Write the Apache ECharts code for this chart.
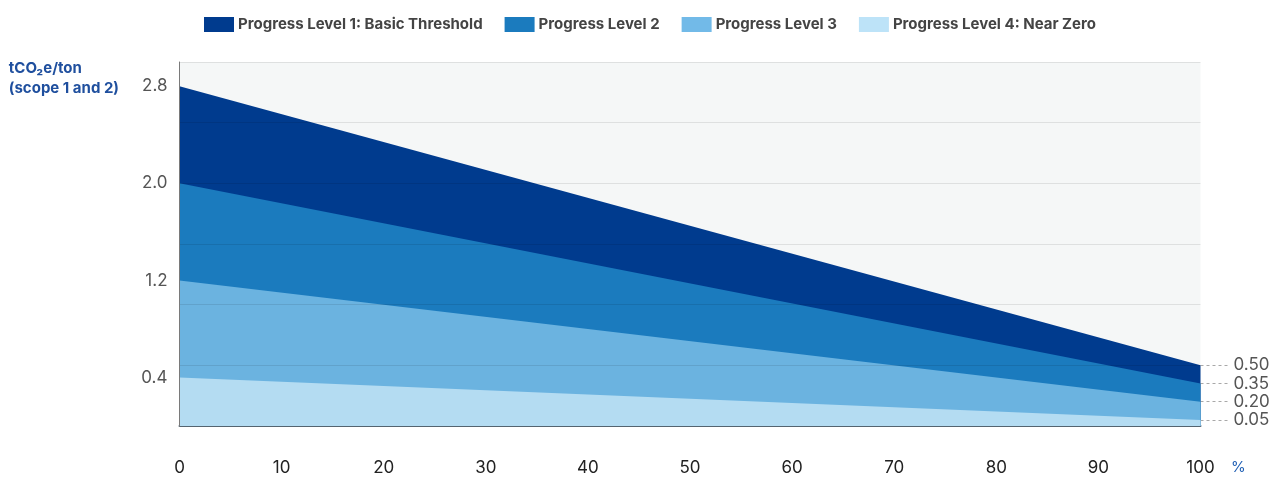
<!DOCTYPE html>
<html>
<head>
<meta charset="utf-8">
<script src="https://cdn.jsdelivr.net/npm/echarts@6/dist/echarts.min.js"></script>
<style>
  html, body { margin: 0; padding: 0; background: #ffffff; }
  #chart { width: 1279px; height: 477px; }
</style>
</head>
<body>
<div id="chart"></div>
<script>
// Share of progress (%) along the horizontal axis
const progressPct = [0, 100];

// Emission intensity thresholds, tCO2e per ton (scope 1 and 2)
const level1 = [2.8, 0.5];
const level2 = [2.0, 0.35];
const level3 = [1.2, 0.2];
const level4 = [0.4, 0.05];

const seriesNames = [
  'Progress Level 1: Basic Threshold',
  'Progress Level 2',
  'Progress Level 3',
  'Progress Level 4: Near Zero'
];
const seriesColors = ['#003b8e', '#1b7bbe', '#6bb3e0', '#b4dcf2'];
const legendColors = ['#003b8e', '#1b7bbe', '#72bae8', '#bde3f8'];

// Tick labels
const leftTickLabels = [0.4, 1.2, 2.0, 2.8];
const endValueLabels = [0.05, 0.2, 0.35, 0.5];

const FONT = 'Inter, Roboto, "Noto Sans", sans-serif';

function pairs(ys) {
  return progressPct.map((x, i) => [x, ys[i]]);
}

const levels = [level1, level2, level3, level4];

const chart = echarts.init(document.getElementById('chart'), null, { renderer: 'canvas' });

chart.setOption({
  animation: false,
  textStyle: { fontFamily: FONT },
  legend: {
    top: 12,
    left: 199,
    itemWidth: 30,
    itemHeight: 15,
    itemGap: 22,
    icon: 'rect',
    textStyle: { fontFamily: FONT, fontSize: 15, fontWeight: 'bold', color: '#444444', padding: [0, 0, 0, -1] },
    data: seriesNames.map((n, i) => ({ name: n, itemStyle: { color: legendColors[i] } }))
  },
  grid: {
    left: 179.5,
    right: 78.5,
    top: 62,
    bottom: 51,
    show: true,
    backgroundColor: '#f5f7f7',
    borderWidth: 0
  },
  xAxis: {
    type: 'value',
    min: 0,
    max: 100,
    interval: 10,
    axisLine: { show: true, lineStyle: { color: '#5d6e7c', width: 2 } },
    axisTick: { show: false },
    splitLine: { show: false },
    axisLabel: {
      margin: 33,
      fontFamily: FONT,
      fontSize: 17,
      color: function (v) { return v === 70 ? '#8a8a8a' : '#222222'; }
    }
  },
  yAxis: [
    {
      type: 'value',
      min: 0,
      max: 3,
      interval: 0.5,
      z: 5,
      axisLine: { show: true, lineStyle: { color: '#7a7a7a', width: 1 } },
      axisTick: { show: false },
      splitLine: { show: true, lineStyle: { color: 'rgba(0,0,0,0.09)', width: 1 } },
      axisLabel: {
        customValues: leftTickLabels,
        margin: 12,
        fontFamily: FONT,
        fontSize: 17,
        color: '#555555',
        formatter: function (v) { return v.toFixed(1); }
      }
    },
    {
      type: 'value',
      position: 'right',
      min: 0,
      max: 3,
      interval: 0.5,
      axisLine: { show: false },
      splitLine: { show: false },
      axisTick: {
        show: true,
        customValues: endValueLabels,
        length: 28,
        lineStyle: { color: '#a8a8a8', type: [3, 3], width: 1 }
      },
      axisLabel: {
        customValues: endValueLabels,
        margin: 33,
        fontFamily: FONT,
        fontSize: 17,
        color: '#555555',
        formatter: function (v) { return v.toFixed(2); }
      }
    }
  ],
  graphic: [
    {
      type: 'text',
      right: 1279 - 119,
      top: 58,
      style: {
        text: 'tCO\u2082e/ton\n(scope 1 and 2)',
        align: 'right',
        fill: '#1f4f9e',
        font: 'bold 15px ' + FONT,
        lineHeight: 20
      }
    },
    {
      type: 'text',
      left: 1231,
      top: 460,
      style: {
        text: '%',
        fill: '#1f5fb4',
        font: '15px ' + FONT
      }
    }
  ],
  series: levels.map((vals, i) => ({
    name: seriesNames[i],
    type: 'line',
    data: pairs(vals),
    symbol: 'none',
    lineStyle: { width: 0 },
    itemStyle: { color: seriesColors[i] },
    areaStyle: { color: seriesColors[i], opacity: 1, origin: 'start' },
    z: 2 + i
  }))
});
</script>
</body>
</html>
